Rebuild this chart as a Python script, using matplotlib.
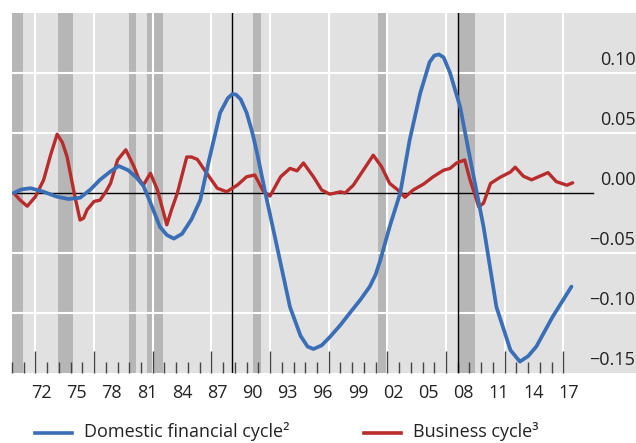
import numpy as np
import matplotlib
matplotlib.use("Agg")
import matplotlib.pyplot as plt
from matplotlib.lines import Line2D
import matplotlib.transforms as mtransforms

plt.rcParams['font.family'] = ['Open Sans', 'DejaVu Sans']

#Domestic financial cycle (blue)
fin_years = [1970.15, 1970.8, 1971.6, 1972.7, 1973.8, 1974.8, 1975.8, 1976.7, 1977.5, 1978.4,
             1979.1, 1979.9, 1980.6, 1981.2, 1981.8, 1982.6, 1983.2, 1983.8, 1984.5, 1985.3,
             1986.05, 1986.8, 1987.75, 1988.4, 1988.8, 1989.1, 1989.5, 1990.0, 1990.5, 1990.9,
             1991.6, 1992.6, 1993.7, 1994.6, 1995.2, 1995.7, 1996.4, 1997.1, 1998.0, 1998.8,
             1999.7, 2000.5, 2001.0, 2001.4, 2002.2, 2003.1, 2003.9, 2004.8, 2005.6, 2006.0,
             2006.4, 2006.8, 2007.35, 2008.2, 2009.3, 2010.2, 2011.3, 2012.5, 2013.3, 2014.0,
             2014.7, 2016.1, 2017.7]
fin_values = [0.000, 0.003, 0.004, 0.001, -0.003, -0.005, -0.004, 0.003, 0.011, 0.018,
              0.0225, 0.019, 0.013, 0.006, -0.008, -0.028, -0.035, -0.038, -0.034, -0.022,
              -0.006, 0.0275, 0.067, 0.079, 0.0825, 0.082, 0.078, 0.067, 0.050, 0.033,
              0.000, -0.045, -0.095, -0.119, -0.128, -0.130, -0.127, -0.120, -0.110, -0.100,
              -0.089, -0.078, -0.068, -0.056, -0.028, 0.000, 0.044, 0.083, 0.109, 0.1145,
              0.1155, 0.113, 0.100, 0.072, 0.0165, -0.028, -0.095, -0.131, -0.1405, -0.136,
              -0.128, -0.103, -0.078]

#Business cycle (red)
bus_years = [1970.15, 1970.7, 1971.3, 1972.0, 1972.7, 1973.3, 1973.85, 1974.3, 1974.7, 1975.3,
             1975.8, 1976.1, 1976.4, 1977.0, 1977.5, 1978.0, 1978.4, 1979.0, 1979.7, 1980.4,
             1980.8, 1981.2, 1981.8, 1982.4, 1982.8, 1983.2, 1983.6, 1984.1, 1984.9, 1985.3,
             1985.8, 1986.6, 1987.5, 1988.3, 1989.2, 1990.0, 1990.7, 1991.45, 1992.0, 1992.9,
             1993.7, 1994.3, 1994.85, 1995.7, 1996.4, 1997.1, 1998.0, 1998.4, 1999.1, 1999.95,
             2000.8, 2001.5, 2002.2, 2002.9, 2003.5, 2004.2, 2005.1, 2005.9, 2006.8, 2007.35,
             2007.9, 2008.6, 2009.05, 2009.8, 2010.2, 2010.8, 2011.6, 2012.5, 2012.9, 2013.6,
             2014.3, 2015.0, 2015.7, 2016.4, 2017.3, 2017.8]
bus_values = [0.000, -0.006, -0.011, -0.003, 0.011, 0.032, 0.049, 0.042, 0.030, 0.000,
              -0.0225, -0.021, -0.014, -0.007, -0.006, 0.001, 0.008, 0.0275, 0.036, 0.022,
              0.012, 0.0065, 0.0165, 0.0025, -0.012, -0.0265, -0.014, 0.000, 0.030, 0.030,
              0.028, 0.0165, 0.004, 0.001, 0.0065, 0.0135, 0.015, 0.001, -0.0025, 0.0135,
              0.0205, 0.0185, 0.025, 0.0135, 0.0025, -0.001, 0.001, 0.000, 0.0065, 0.019,
              0.0315, 0.022, 0.008, 0.0025, -0.0035, 0.0025, 0.0075, 0.0135, 0.019, 0.0205,
              0.025, 0.0275, 0.011, -0.0115, -0.0085, 0.008, 0.013, 0.0175, 0.0215, 0.014,
              0.011, 0.014, 0.017, 0.0095, 0.0065, 0.0085]

#US recessions (shaded) and the two marked years (black lines)
recessions = [(1970.0, 1970.9), (1973.9, 1975.2), (1979.95, 1980.55), (1981.55, 1982.9),
              (1990.55, 1991.25), (2001.2, 2001.9), (2008.05, 2009.45)]
marked_years = [1988.75, 2008.0]

x_labels = ["72", "75", "78", "81", "84", "87", "90", "93", "96", "99", "02", "05", "08", "11", "14", "17"]
x_label_years = [1972, 1975, 1978, 1981, 1984, 1987, 1990, 1993, 1996, 1999, 2002, 2005, 2008, 2011, 2014, 2017]
y_ticks = [0.10, 0.05, 0.00, -0.05, -0.10, -0.15]
y_labels = ["0.10", "0.05", "0.00", "\u22120.05", "\u22120.10", "\u22120.15"]

blue = "#3a6fb7"
red = "#b82c2c"

fig = plt.figure(figsize=(6.36, 4.43), dpi=100)
ax = fig.add_axes([12 / 636, 70 / 443, 624 / 636, 360 / 443])
ax.set_facecolor("#e1e1e1")
ax.set_xlim(1970, 2023.2)
ax.set_ylim(-0.15, 0.15)
for s in ax.spines.values():
    s.set_visible(False)

for start, end in recessions:
    ax.axvspan(start, end, color="#b6b6b6", lw=0, zorder=0.5)

#white grid
for yv in [0.10, 0.05, -0.05, -0.10]:
    ax.axhline(yv, color="white", lw=1.5, zorder=1)
for xv in range(1972, 2018, 5):
    ax.axvline(xv, color="white", lw=1.5, zorder=1)

ax.plot([1970, 2019.5], [0, 0], color="black", lw=1.0, zorder=2)
for xv in marked_years:
    ax.axvline(xv, color="black", lw=1.0, zorder=2)

ax.plot(fin_years, fin_values, color=blue, lw=2.7, zorder=4, solid_capstyle="round",
        solid_joinstyle="round")
ax.plot(bus_years, bus_values, color=red, lw=2.4, zorder=3, solid_capstyle="round",
        solid_joinstyle="round")

#ticks on the bottom, pointing up
ax.set_xticks(range(1972, 2018, 5))
ax.set_xticks(range(1970, 2018), minor=True)
ax.tick_params(axis="x", which="major", direction="in", length=15.8, width=1.0, color="#444444",
               labelbottom=False)
ax.tick_params(axis="x", which="minor", direction="in", length=7.9, width=1.0, color="#444444")
ax.set_yticks([])

for yr, lab in zip(x_label_years, x_labels):
    ax.text(yr + 0.5, -20 / 360, lab, transform=ax.get_xaxis_transform(), ha="center", va="center",
            fontsize=13, color="#222222", clip_on=False)

lab_trans = mtransforms.offset_copy(ax.transAxes, fig=fig, x=0, y=13, units="dots")
for yv, lab in zip(y_ticks, y_labels):
    ypos = (yv + 0.15) / 0.30
    ax.text(0.999, ypos, lab, transform=lab_trans, ha="right", va="center", fontsize=13,
            color="#222222", clip_on=False)

#legend below the chart
ly = 1 - 433 / 443
fig.add_artist(Line2D([35 / 636, 72 / 636], [ly, ly], color=blue, lw=2.6, transform=fig.transFigure))
fig.text(84 / 636, ly + 0.003, "Domestic financial cycle\u00b2", ha="left", va="center", fontsize=13,
         color="#222222")
fig.add_artist(Line2D([364 / 636, 401 / 636], [ly, ly], color=red, lw=2.6, transform=fig.transFigure))
fig.text(413 / 636, ly + 0.003, "Business cycle\u00b3", ha="left", va="center", fontsize=13,
         color="#222222")

fig.savefig("out.png", dpi=100)
